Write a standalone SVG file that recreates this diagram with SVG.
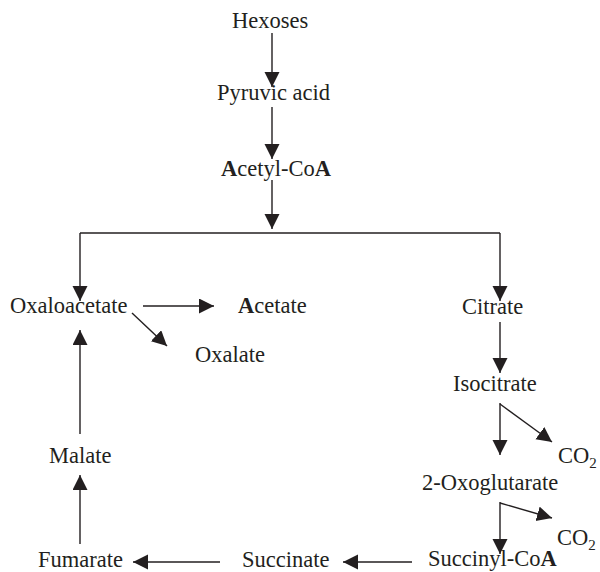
<svg xmlns="http://www.w3.org/2000/svg" width="600" height="572" viewBox="0 0 600 572">
<defs>
<marker id="ah" markerUnits="userSpaceOnUse" markerWidth="16" markerHeight="16" refX="15" refY="7.5" orient="auto">
<path d="M0,0 L15,7.5 L0,15 Z" fill="#231f20"/>
</marker>
<style>
text{font-family:"Liberation Serif","Times New Roman",serif;font-size:22.5px;fill:#231f20}
.c{stroke:#231f20;stroke-width:1.4;fill:none}
.a{marker-end:url(#ah)}
.sub{font-size:15px}
.b{font-weight:bold}
</style>
</defs>
<rect width="600" height="572" fill="#fff"/>
<g id="connectors">
<line class="c a" x1="272" y1="33" x2="272" y2="87"/>
<line class="c a" x1="272" y1="107" x2="272" y2="159"/>
<line class="c a" x1="272" y1="180" x2="272" y2="229"/>
<line class="c" x1="80" y1="233" x2="500" y2="233"/>
<line class="c a" x1="80" y1="233" x2="80" y2="301"/>
<line class="c a" x1="500" y1="233" x2="500" y2="301"/>
<line class="c a" x1="143" y1="306" x2="214" y2="306"/>
<line class="c a" x1="132" y1="313" x2="167" y2="346"/>
<line class="c a" x1="500" y1="322" x2="500" y2="373"/>
<line class="c a" x1="500" y1="403" x2="500" y2="455"/>
<line class="c a" x1="500" y1="404" x2="552" y2="442"/>
<line class="c a" x1="500" y1="502" x2="500" y2="554"/>
<line class="c a" x1="500" y1="503" x2="552" y2="518"/>
<line class="c a" x1="412" y1="562" x2="343" y2="562"/>
<line class="c a" x1="220" y1="562" x2="133" y2="562"/>
<line class="c a" x1="80" y1="544" x2="80" y2="475"/>
<line class="c a" x1="80" y1="434" x2="80" y2="330"/>
</g>
<g id="hexoses"><text x="232" y="28">Hexoses</text></g>
<g id="pyruvic"><text x="217" y="100">Pyruvic acid</text></g>
<g id="acetylcoa"><text x="221" y="176"><tspan class="b">A</tspan>cetyl-Co<tspan class="b">A</tspan></text></g>
<g id="oxaloacetate"><text x="10" y="313">Oxaloacetate</text></g>
<g id="acetate"><text x="238" y="313"><tspan class="b">A</tspan>cetate</text></g>
<g id="oxalate"><text x="195" y="362">Oxalate</text></g>
<g id="citrate"><text x="462" y="314">Citrate</text></g>
<g id="isocitrate"><text x="453" y="391">Isocitrate</text></g>
<g id="co2a"><text x="558" y="463">CO<tspan class="sub" dy="5">2</tspan></text></g>
<g id="oxoglutarate"><text x="422" y="490">2-Oxoglutarate</text></g>
<g id="co2b"><text x="557" y="545">CO<tspan class="sub" dy="5">2</tspan></text></g>
<g id="succinylcoa"><text x="428" y="566">Succinyl-Co<tspan class="b">A</tspan></text></g>
<g id="succinate"><text x="242" y="567">Succinate</text></g>
<g id="fumarate"><text x="38" y="567">Fumarate</text></g>
<g id="malate"><text x="49" y="463">Malate</text></g>
</svg>
